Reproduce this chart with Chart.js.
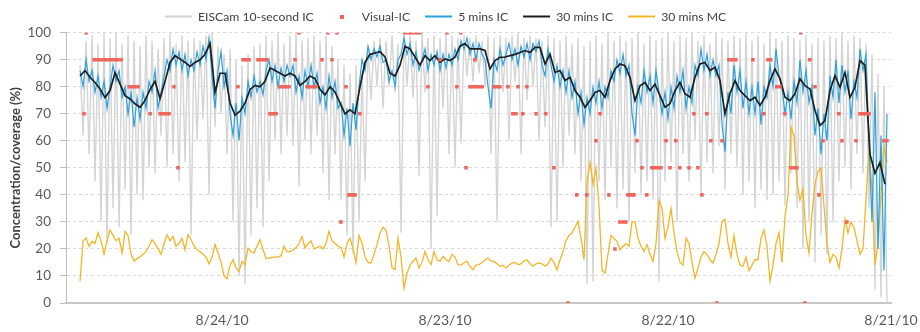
<!DOCTYPE html>
<html>
<head>
<meta charset="utf-8">
<script src="https://cdn.jsdelivr.net/npm/chart.js@4.4.1/dist/chart.umd.min.js"></script>
<style>
  html, body { margin: 0; padding: 0; background: #ffffff; }
  #wrap { width: 920px; height: 332px; }
</style>
</head>
<body>
<div id="wrap"><canvas id="chart" width="920" height="332"></canvas></div>
<script>
// Ice concentration record, 8/21/10 - 8/24/10 (time runs right to left on the axis as dates descend)

// Day-of-month axis ticks
const tickDays = [21, 22, 23, 24];
const tickLabels = ['8/21/10', '8/22/10', '8/23/10', '8/24/10'];

// Regular sample clock (day of month) for the dense series
const denseStart = 24.637;
const denseEnd = 21.018;
const halfHourStart = 24.637;
const halfHourEnd = 21.027;

// EISCam 10-second IC (%)
const eisCam10s = [
  88,62,97,55,99,45,96,30,100,22,
  98,35,100,28,96,42,99,25,97,40,
  95,38,99,50,97,48,94,62,98,50,
  100,55,96,45,99,52,97,25,98,60,
  97,68,99,40,100,65,95,70,92,55,
  94,30,90,10,88,7,92,25,95,35,
  96,28,99,45,97,60,100,55,96,62,
  99,58,100,43,97,60,98,55,99,62,
  97,48,99,38,95,55,90,38,88,25,
  85,18,88,30,86,45,95,75,97,80,
  98,72,97,80,99,78,96,26,100,80,
  99,76,97,47,100,78,98,20,99,32,
  98,72,100,55,99,50,98,59,99,84,
  98,82,99,85,97,80,99,55,98,30,
  99,78,98,60,99,82,100,55,98,75,
  99,80,98,60,97,65,99,28,98,30,
  97,50,99,62,96,55,98,45,95,7,
  97,8,99,45,96,38,100,50,97,35,
  99,42,97,30,98,48,100,40,96,45,
  99,38,97,8,98,45,100,52,97,30,
  99,55,98,45,100,60,97,40,99,52,
  96,48,100,58,98,42,97,55,99,50,
  98,40,100,45,97,35,99,42,96,38,
  100,40,98,45,97,36,99,48,98,35,
  97,20,99,30,96,15,98,25,97,18,
  99,30,98,45,100,50,97,42,99,55,
  98,48,96,35,92,5,85,2,80,0
];

// 5 mins IC (%)
const ic5min = [
  86,80,90,82,86,78,84,76,82,72,
  80,88,82,86,76,80,70,78,65,76,
  68,78,72,82,78,86,72,78,84,90,
  86,94,88,93,86,92,84,90,86,93,
  88,95,90,98,84,72,86,93,80,86,
  70,62,74,60,76,70,82,76,84,78,
  82,77,86,90,82,88,80,87,82,88,
  84,88,78,84,76,86,80,88,80,85,
  74,80,72,84,76,82,72,74,62,72,
  58,74,64,80,90,86,95,90,94,91,
  95,89,90,82,86,80,90,92,98,92,
  96,88,93,86,90,94,86,92,88,93,
  86,92,87,92,88,94,90,97,94,98,
  92,96,90,96,92,90,80,72,90,86,
  94,88,92,96,90,94,88,95,91,96,
  90,96,93,97,88,84,94,88,82,88,
  80,86,78,86,76,82,70,78,66,76,
  70,80,74,82,72,80,76,86,82,90,
  85,92,84,88,70,62,80,74,86,78,
  84,74,86,78,70,78,68,80,72,84,
  78,86,72,80,74,88,84,94,86,92,
  84,90,84,88,66,56,78,70,88,78,
  86,72,82,70,80,70,82,66,80,76,
  88,80,94,84,80,70,78,68,82,74,
  90,78,86,74,80,62,72,55,70,60,
  84,76,90,74,88,78,86,68,82,76,
  94,86,92,60,30,78,20,62,12,70
];

// 30 mins IC (%)
const ic30min = [
  84,86,83.5,81.6,79.2,76,78.6,85.3,81,76.7,
  75.5,73.7,72.4,74.9,79,82,75.6,82,89,91.5,
  90.3,89,87.5,89,90,92,96,78,85,85,
  74,69.5,71,74,79,80.5,80,82,87,86,
  85,84,85,84,80.5,82,84,83,79,77,
  80,78,74,70,71.5,70,80,89,92,92.5,
  93,91,85,84,88,95,94,91,88,91.5,
  89.7,91.5,89,90.3,89.7,90.9,95,96,94,94,
  94,93.4,86.6,89.7,90.9,91,91.5,92,92.7,93.4,
  92.7,94.6,94.6,88.4,92.1,85.3,86,82.3,83.5,78.6,
  76.1,72.4,74.9,77.9,78.6,76.1,82.3,86.6,88.4,87.8,
  83.5,74.9,80.4,81.6,78.6,81,76.7,72.4,73.7,78.6,
  81.6,77.4,76.1,83.5,88.4,89,86,87.2,82.3,70,
  77.4,82.3,78.6,76.7,74.9,76.1,73.1,76.1,82.3,86.6,
  82.9,76.1,74.9,77.4,82.9,80.4,79.2,71.2,65.7,67.5,
  78.6,84.1,79.8,85.3,76.1,79.8,89.7,88,55,48,
  52,44
];

// 30 mins MC (%)
const mc30min = [
  8,23,24,21,22.8,22,26,23,18,23,
  27,25,23,24,18.5,26.5,25,18,15.5,16.5,
  17,18,19,21,23.4,22,20,18,22,25.3,
  23,24.6,21,22,24,19.7,25.3,23.5,21,19.7,
  19,18,17,14.5,17,21.6,18.5,15,10,9,
  14,16,13,11.7,15.4,14.2,20.3,19,18.5,21,
  23.4,19.7,16.5,16.5,17,17,17,17.5,21,19,
  19,19.7,20.5,22,24.6,20.3,22,23,20,20.5,
  21,20,22,26.5,23,22,21,20.5,17,22,
  24,20,15,25,22.2,17,15,14.8,18,21.6,
  26,28,27,21,13,12.3,24,17,5.5,11,
  14,15.4,16.6,13,15,19.1,16,14.2,19,16,
  15.5,17.2,16,15.4,18,17,14.2,14,15,15.4,
  13.5,12.3,14,14.2,15,16,16.6,15.5,15.4,14.5,
  13.6,14,13,14,14.8,15,14.2,14.5,15.5,16,
  14.5,13.6,14.5,14.8,14.5,13.6,14.5,16.6,15,12.3,
  16,19,23,25,25.9,28,30.2,24,16,45,
  52,44,50,36,12,11,18,25,24,22.8,
  19.7,21,22,21,30,30,24,21,19,21.6,
  18,15.4,22,38,35,24,28,35,26,19,
  15,14,24,22,15,9.2,13,17,19,18,
  16,14.8,18,22,30,31,22,17,25,18,
  14,13.6,17,12,14,16,16,24,27,21,
  8,14,22,26,15,32,40,65,62,45,
  38,42,25,18.5,33,44,48.6,50,36,22,
  15,18,17,13,20,31,26,30,28,23,
  18,20,38,57,42,14,22,40,58,52
];

// Visual-IC observations: day of month and reported concentration (%)
const visualDays = [
  24.619,24.610,
  24.574,24.561,24.548,24.534,24.521,24.507,24.494,24.480,24.467,24.453,
  24.417,24.404,24.391,24.377,24.323,24.278,24.265,24.252,24.238,24.216,24.198,
  23.929,23.906,23.893,23.879,23.839,23.826,23.812,23.799,23.785,23.772,23.758,
  23.740,23.727,23.713,23.700,23.673,23.655,23.619,23.606,23.592,23.579,23.552,
  23.525,23.507,23.485,23.467,23.444,23.431,23.417,23.404,23.382,
  23.180,23.166,23.153,23.139,23.126,23.113,23.077,23.023,22.991,22.947,22.929,22.906,
  22.888,22.875,22.861,22.848,22.834,22.866,22.781,22.767,22.754,22.718,22.696,22.682,
  22.673,22.651,22.633,22.592,22.548,22.512,22.449,22.409,22.364,22.323,22.305,22.265,
  22.238,22.216,22.202,22.189,22.180,22.166,22.153,22.139,22.117,22.095,
  22.072,22.059,22.045,22.032,22.009,21.991,21.965,21.947,21.906,21.884,21.866,21.848,
  21.826,21.808,21.781,21.758,21.727,21.713,21.696,21.619,21.570,21.552,21.539,
  21.512,21.498,21.476,21.449,21.435,21.422,21.404,21.386,21.364,21.341,21.323,21.305,
  21.234,21.220,21.198,21.157,21.139,21.126,21.113,21.099,21.032,21.018
];
const visualIC = [
  70,100,
  90,90,90,90,90,90,90,90,90,90,
  80,80,80,80,70,70,70,70,70,80,50,
  80,90,90,90,90,90,90,90,70,70,70,
  80,80,80,80,90,100,80,80,80,80,90,
  100,90,100,30,80,40,40,40,70,
  100,100,100,100,100,100,80,90,100,80,100,50,
  80,80,80,80,80,90,80,80,80,80,70,70,
  80,70,80,70,70,50,0,40,40,60,70,40,
  20,30,30,30,40,40,40,60,50,40,
  50,50,50,50,60,50,60,50,50,70,50,40,
  70,60,0,60,90,90,90,90,70,90,90,
  80,80,70,50,50,50,100,0,90,80,40,60,
  70,60,30,60,70,70,70,70,60,60
];

// Pair each value with its sample time on the regular clock
function onClock(values, first, last) {
  const step = (last - first) / (values.length - 1);
  return values.map((v, i) => ({ x: first + i * step, y: v }));
}

const FONT = 'Lato, "Open Sans", "DejaVu Sans", sans-serif';

// Small red square used as the legend marker for the visual observations
const visualMarker = document.createElement('canvas');
visualMarker.width = 4;
visualMarker.height = 4;
(function () {
  const g = visualMarker.getContext('2d');
  g.fillStyle = '#f0645c';
  g.fillRect(0, 0, 4, 4);
})();

new Chart(document.getElementById('chart'), {
  type: 'line',
  data: {
    datasets: [
      {
        label: 'EISCam 10-second IC',
        data: onClock(eisCam10s, denseStart, denseEnd),
        borderColor: '#d4d4d4',
        backgroundColor: '#d4d4d4',
        borderWidth: 1.4,
        pointRadius: 0,
        order: 4
      },
      {
        label: 'Visual-IC',
        data: visualDays.map((d, i) => ({ x: d, y: visualIC[i] })),
        showLine: false,
        pointStyle: 'rect',
        pointRadius: 2.5,
        pointBorderWidth: 0,
        backgroundColor: '#f0645c',
        borderColor: '#f0645c',
        order: 0
      },
      {
        label: '5 mins IC',
        data: onClock(ic5min, denseStart, denseEnd),
        borderColor: '#2ba1de',
        backgroundColor: '#2ba1de',
        borderWidth: 1.2,
        pointRadius: 0,
        order: 2
      },
      {
        label: '30 mins IC',
        data: onClock(ic30min, halfHourStart, halfHourEnd),
        borderColor: '#1e1e1e',
        backgroundColor: '#1e1e1e',
        borderWidth: 1.7,
        pointRadius: 0,
        order: 1
      },
      {
        label: '30 mins MC',
        data: onClock(mc30min, denseStart, denseEnd),
        borderColor: '#f4b526',
        backgroundColor: '#f4b526',
        borderWidth: 1.3,
        pointRadius: 0,
        order: 3
      }
    ]
  },
  options: {
    responsive: false,
    animation: false,
    devicePixelRatio: 1,
    layout: { padding: { top: -4.5, right: 29, bottom: 0, left: 0 } },
    elements: { line: { tension: 0 } },
    plugins: {
      tooltip: { enabled: false },
      legend: {
        position: 'top',
        align: 'center',
        labels: {
          font: { family: FONT, size: 12.2 },
          color: '#404040',
          usePointStyle: true,
          pointStyleWidth: 27,
          boxWidth: 27,
          boxHeight: 10,
          padding: 15,
          sort: (a, b) => a.datasetIndex - b.datasetIndex,
          generateLabels(chart) {
            const items = Chart.defaults.plugins.legend.labels.generateLabels(chart);
            items.forEach(item => {
              if (item.datasetIndex === 1) {
                item.pointStyle = visualMarker;
              } else {
                item.pointStyle = 'line';
                item.lineWidth = 2;
              }
            });
            return items;
          }
        }
      }
    },
    scales: {
      x: {
        type: 'linear',
        reverse: true,
        min: 21,
        max: 24.70,
        afterBuildTicks(scale) {
          scale.ticks = tickDays.map(v => ({ value: v }));
        },
        ticks: {
          autoSkip: false,
          maxRotation: 0,
          padding: 9,
          color: '#595959',
          font: { family: FONT, size: 14 },
          callback: (value) => tickLabels[tickDays.indexOf(value)]
        },
        grid: { display: false, drawTicks: false },
        border: { display: true, color: '#c8c8c8', width: 2 },
        afterFit(scale) { scale.height = 29; }
      },
      y: {
        min: 0,
        max: 100,
        ticks: {
          stepSize: 10,
          padding: 9,
          color: '#595959',
          font: { family: FONT, size: 13.5 }
        },
        grid: { color: '#d9d9d9', tickColor: '#bfbfbf', tickLength: 6, lineWidth: 1 },
        border: { display: true, color: '#bfbfbf', width: 1, dash: [3, 3] },
        title: {
          display: true,
          text: 'Concentration/coverage (%)',
          color: '#404040',
          font: { family: FONT, size: 13, weight: 'bold' },
          padding: { top: 8, bottom: 0 }
        },
        afterFit(scale) { scale.width = 66; }
      }
    }
  }
});
</script>
</body>
</html>
